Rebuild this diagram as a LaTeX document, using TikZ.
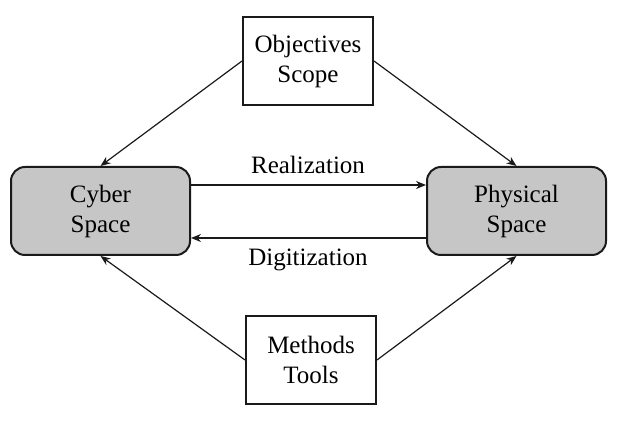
\documentclass[tikz,border=0pt]{standalone}
\usepackage{fontspec}
\setmainfont{Liberation Serif}
\usepackage{tikz}
\usetikzlibrary{arrows.meta, positioning}
\definecolor{spacegray}{HTML}{C6C6C6}
\definecolor{lineblack}{HTML}{1A1A1A}
\newcommand{\SpaceFigureFont}{\fontsize{12.5}{15}\selectfont}
\tikzset{
  space flow box/.style={
    draw=lineblack,
    line width=1pt,
    align=center,
    inner sep=0pt,
    font=\SpaceFigureFont
  },
  space main box/.style={space flow box, fill=spacegray, rounded corners=7pt,
    minimum width=89.5pt, minimum height=44pt},
  space aux box/.style={space flow box, fill=white,
    minimum width=65pt, minimum height=44pt},
  space arrow/.style={
    -{Stealth[length=5pt,width=4pt]},
    line width=0.6pt,
    draw=lineblack
  },
  space label/.style={font=\SpaceFigureFont, inner sep=1pt}
}
\begin{document}
\begin{tikzpicture}[x=0.5pt,y=-0.5pt]
\useasboundingbox (0,0) rectangle (621,421);

\node[space main box] (cyber) at (100.5,211) {Cyber\\Space};
\node[space main box] (phys) at (516.5,211) {Physical\\Space};
\node[space aux box] (obj) at (308,61) {Objectives\\Scope};
\node[space aux box] (meth) at (311,360) {Methods\\Tools};

\node[space label] (real) at (308,165) {Realization};
\node[space label] (digi) at (308,260) {Digitization};

\draw[space arrow] (obj.west) -- (cyber.north);
\draw[space arrow] (obj.east) -- (phys.north);
\draw[space arrow] (meth.west) -- (cyber.south);
\draw[space arrow] (meth.east) -- (phys.south);
\draw[space arrow] ([yshift=13pt]cyber.east) -- ([yshift=13pt]phys.west);
\draw[space arrow] ([yshift=-13.5pt]phys.west) -- ([yshift=-13.5pt]cyber.east);
\end{tikzpicture}
\end{document}
